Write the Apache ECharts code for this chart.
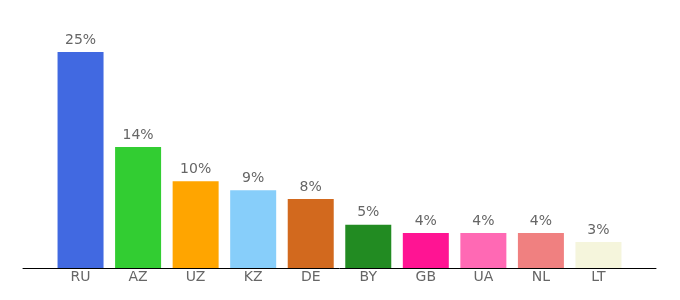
<!DOCTYPE html>
<html>
<head>
<meta charset="utf-8">
<script src="https://cdn.jsdelivr.net/npm/echarts@6/dist/echarts.min.js"></script>
<style>html,body{margin:0;padding:0;background:#fff}#c{width:680px;height:300px}</style>
</head>
<body>
<div id="c"></div>
<script>
const categories = ['RU','AZ','UZ','KZ','DE','BY','GB','UA','NL','LT'];
const values = [25, 14, 10.05, 9, 8, 5, 4.05, 4.05, 4.05, 3];
const labels = ['25%','14%','10%','9%','8%','5%','4%','4%','4%','3%'];
const colors = ['#4169E1','#32CD32','#FFA500','#87CEFA','#D2691E','#228B22','#FF1493','#FF69B4','#F08080','#F5F5DC'];

const axisData = [''].concat(categories, ['']);
const seriesData = ['-'].concat(values.map((v, i) => ({
  value: v,
  itemStyle: { color: colors[i] },
  label: { formatter: labels[i] }
})), ['-']);

const chart = echarts.init(document.getElementById('c'), null, { renderer: 'canvas' });
chart.setOption({
  animation: false,
  grid: { left: 23, right: 24, top: 30, bottom: 32 },
  xAxis: {
    type: 'category',
    data: axisData,
    boundaryGap: false,
    axisLine: { lineStyle: { color: '#000', width: 1 } },
    axisTick: { show: false },
    axisLabel: { color: '#666', fontSize: 14, margin: 2, fontFamily: 'DejaVu Sans', interval: 0 }
  },
  yAxis: {
    type: 'value',
    min: 0,
    max: 25 * 238 / 216,
    show: false,
    splitLine: { show: false }
  },
  series: [{
    type: 'bar',
    data: seriesData,
    barWidth: 46,
    label: {
      show: true,
      position: 'top',
      distance: 5,
      color: '#666',
      fontSize: 14,
      fontFamily: 'DejaVu Sans'
    }
  }]
});
</script>
</body>
</html>
